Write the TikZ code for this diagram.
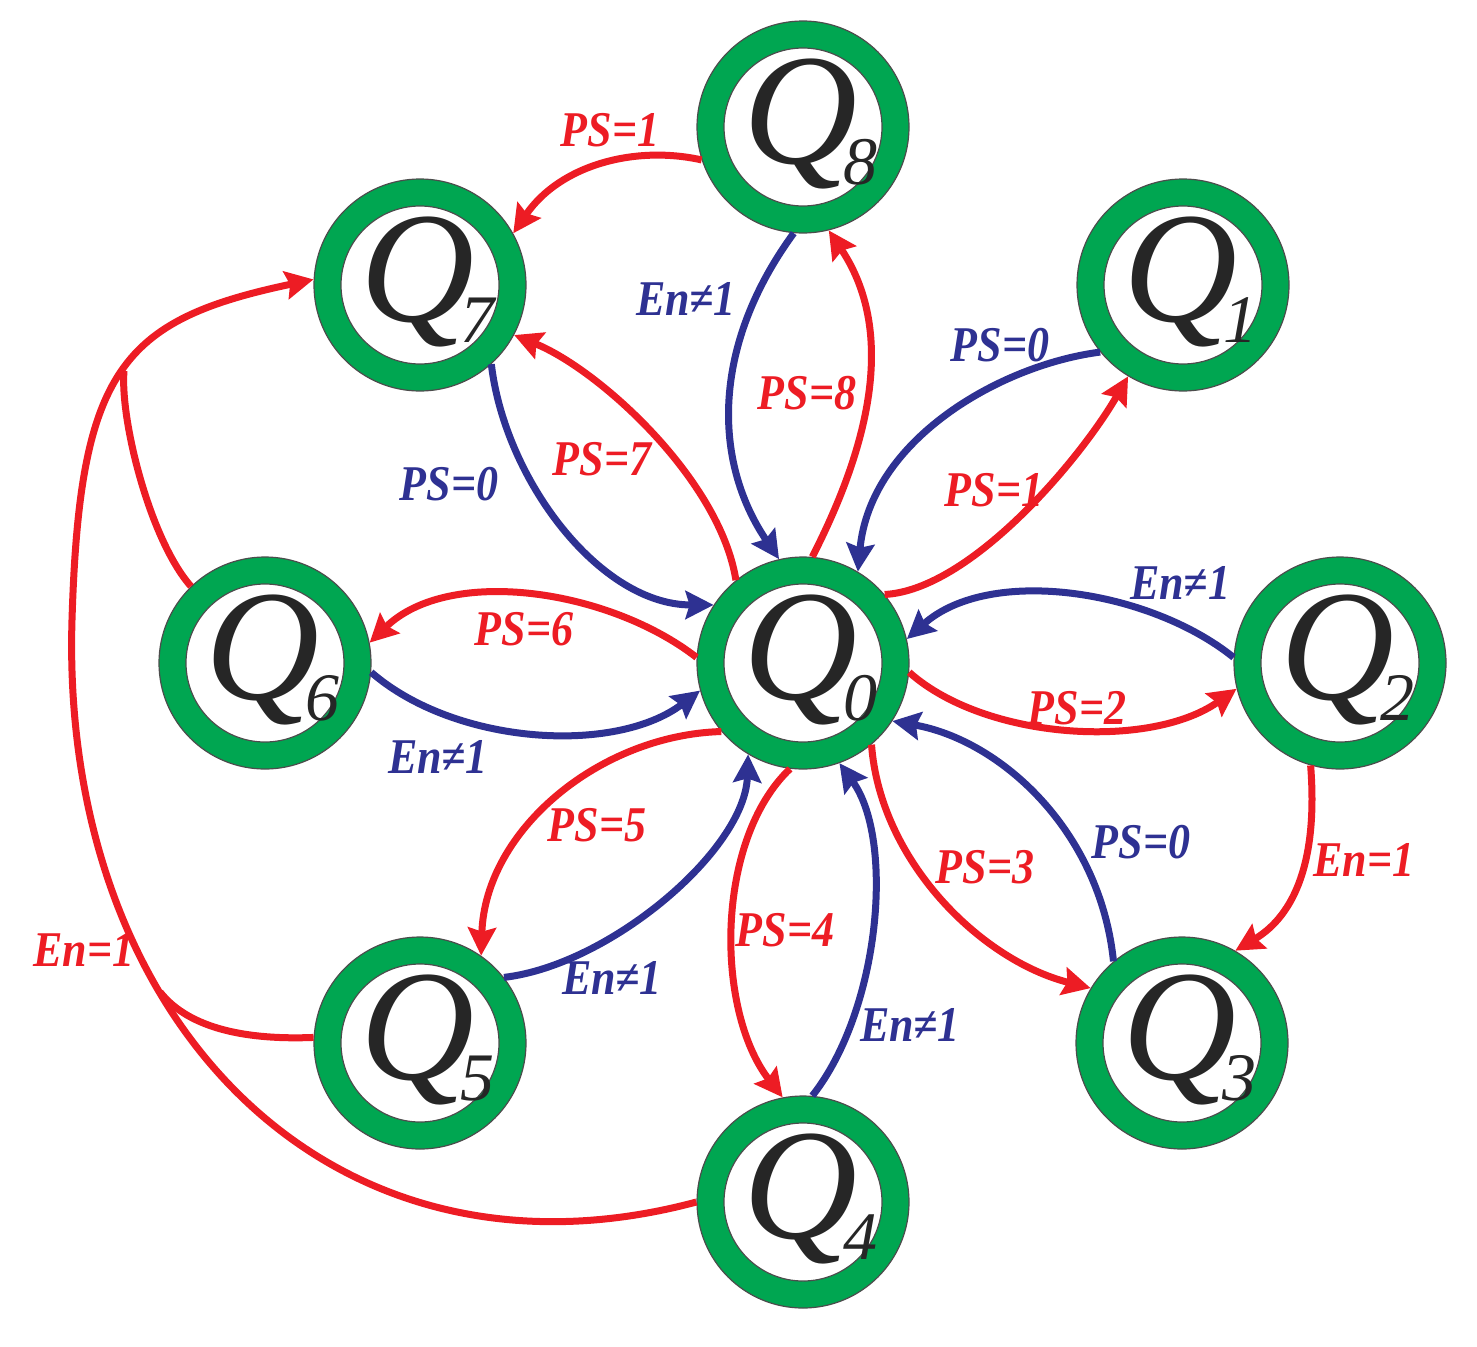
\documentclass[tikz,border=0pt]{standalone}
\usepackage{fontspec}
\setmainfont{Liberation Serif}
\usetikzlibrary{arrows.meta}
\definecolor{ringgreen}{RGB}{0,166,81}
\definecolor{ered}{RGB}{237,28,36}
\definecolor{eblue}{RGB}{46,49,146}
\newcommand{\qlab}[1]{%
  \makebox[0pt][l]{\hspace*{-60pt}\raisebox{-36pt}[0pt][0pt]{\fontsize{158}{158}\selectfont\itshape Q}}%
  \makebox[0pt][l]{\hspace*{40pt}\raisebox{-57pt}[0pt][0pt]{\fontsize{68}{68}\selectfont\itshape #1}}}
\newcommand{\lbl}[1]{\scalebox{0.88}[1]{#1}}
\begin{document}
\begin{tikzpicture}[x=1pt,y=-1pt,
  state/.style={circle, minimum size=212pt, inner sep=0pt, fill=ringgreen,
    draw=black!70, line width=1.2pt, text=black!85,
    path picture={\draw[black!70, line width=1.2pt, fill=white]
      (path picture bounding box.center) circle (79pt);}},
  redge/.style={draw=ered, line width=7pt, -{Stealth[length=28pt,width=28pt,inset=4pt]}},
  bedge/.style={draw=eblue, line width=7pt, -{Stealth[length=28pt,width=28pt,inset=4pt]}},
  rline/.style={draw=ered, line width=7pt},
  lab/.style={font=\bfseries\itshape\fontsize{50}{50}\selectfont, inner sep=0pt},
  rlab/.style={lab, text=ered},
  blab/.style={lab, text=eblue}]
\useasboundingbox (0,0) rectangle (1477,1346);
\fill[white] (0,0) rectangle (1477,1346);

% states
\node[state] (q0) at (803,663) {\qlab{0}};
\node[state] (q8) at (803,127) {\qlab{8}};
\node[state] (q1) at (1183,285) {\qlab{1}};
\node[state] (q2) at (1340,663) {\qlab{2}};
\node[state] (q3) at (1182,1043) {\qlab{3}};
\node[state] (q4) at (803,1202) {\qlab{4}};
\node[state] (q5) at (420,1043) {\qlab{5}};
\node[state] (q6) at (265,663) {\qlab{6}};
\node[state] (q7) at (420,285) {\qlab{7}};

% waypoints of the big left connector
\coordinate (lm) at (72,620);
\coordinate (j6) at (124,371);
\coordinate (j5) at (160,992);

% edges
\draw[redge] (q8.198) .. controls (635,145) and (560,165) .. (q7.29);
\draw[bedge] (q8.265) .. controls (712,345) and (712,460) .. (q0.103);
\draw[redge] (q0.85) .. controls (872,440) and (895,330) .. (q8.-76);
\draw[bedge] (q1.219) .. controls (1000,365) and (870,440) .. (q0.59);
\draw[redge] (q0.40) .. controls (970,590) and (1080,460) .. (q1.239);
\draw[bedge] (q2.177) .. controls (1150,590) and (990,565) .. (q0.13);
\draw[redge] (q0.-5) .. controls (985,740) and (1150,750) .. (q2.194);
\draw[redge] (q2.254) .. controls (1318,860) and (1295,915) .. (q3.60);
\draw[bedge] (q3.130) .. controls (1100,830) and (1000,740) .. (q0.-33);
\draw[redge] (q0.-50) .. controls (880,860) and (980,960) .. (q3.149);
\draw[bedge] (q4.85) .. controls (880,1010) and (895,840) .. (q0.-70);
\draw[redge] (q0.-97) .. controls (715,840) and (715,1010) .. (q4.101);
\draw[bedge] (q5.38) .. controls (610,965) and (745,850) .. (q0.239);
\draw[redge] (q0.220) .. controls (600,735) and (485,830) .. (q5.55);
\draw[redge] (q0.177) .. controls (610,590) and (450,565) .. (q6.11);
\draw[bedge] (q6.-5) .. controls (455,745) and (615,755) .. (q0.195);
\draw[bedge] (q7.-48) .. controls (505,480) and (600,605) .. (q0.147);
\draw[redge] (q0.129) .. controls (720,480) and (600,370) .. (q7.-28);

% big left connector (Q4, Q5, Q6 -> Q7)
\draw[redge] (q4.180) .. controls (330,1300) and (60,1020) .. (lm)
  .. controls (79.5,370) and (121,320) .. (q7.177);
\draw[rline] (q6.134) .. controls (150,540) and (120,420) .. (j6);
\draw[rline] (q5.177) .. controls (250,1040) and (190,1030) .. (j5);

% labels
\node[rlab] (l87) at (610,130) {\lbl{PS=1}};
\node[blab] (l80) at (686,299) {\lbl{En≠1}};
\node[rlab] (l08) at (807,393) {\lbl{PS=8}};
\node[blab] (l10) at (1000,345) {\lbl{PS=0}};
\node[rlab] (l01) at (994,490) {\lbl{PS=1}};
\node[blab] (l20) at (1180,583) {\lbl{En≠1}};
\node[rlab] (l02) at (1077,708) {\lbl{PS=2}};
\node[rlab] (l23) at (1364,860) {\lbl{En=1}};
\node[blab] (l30) at (1141,842) {\lbl{PS=0}};
\node[rlab] (l03) at (985,867) {\lbl{PS=3}};
\node[blab] (l40) at (910,1025) {\lbl{En≠1}};
\node[rlab] (l04) at (785,930) {\lbl{PS=4}};
\node[blab] (l50) at (612,978) {\lbl{En≠1}};
\node[rlab] (l05) at (597,825) {\lbl{PS=5}};
\node[rlab] (l06) at (524,629) {\lbl{PS=6}};
\node[blab] (l60) at (438,757) {\lbl{En≠1}};
\node[blab] (l70) at (449,484) {\lbl{PS=0}};
\node[rlab] (l07) at (602,459) {\lbl{PS=7}};
\node[rlab] (l47) at (84,950) {\lbl{En=1}};
\end{tikzpicture}
\end{document}
